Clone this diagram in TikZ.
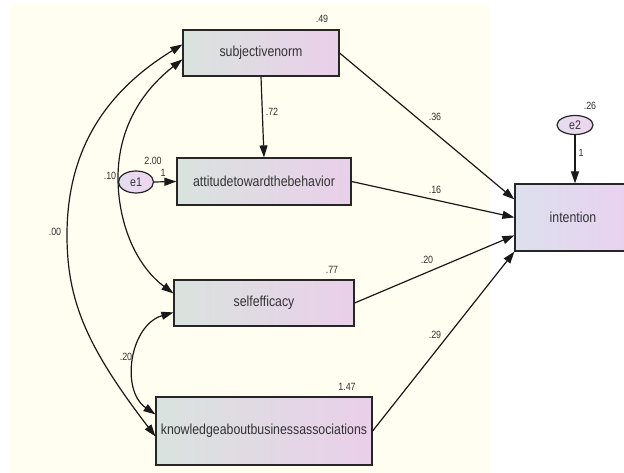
\documentclass[tikz,border=0pt]{standalone}
\usepackage{fontspec}
\setmainfont{Liberation Sans}
\newfontfamily\boxfont[FakeStretch=0.85]{Liberation Sans}
\usetikzlibrary{arrows.meta,calc,shapes.geometric}
\definecolor{cream}{HTML}{FFFEF0}
\definecolor{boxL}{HTML}{D9E3DE}
\definecolor{boxR}{HTML}{EACFEA}
\definecolor{intL}{HTML}{DCE0EE}
\definecolor{intR}{HTML}{EBD0F0}
\definecolor{ellL}{HTML}{E4DDF0}
\definecolor{ellR}{HTML}{F0D4F0}
\definecolor{txt}{HTML}{333333}
\begin{document}
\begin{tikzpicture}[x=1pt,y=-1pt,
  varbox/.style={draw=black!85,line width=1.2pt,shade,left color=boxL,right color=boxR,
    font=\boxfont\fontsize{14.5}{15}\selectfont,text=txt,inner sep=0pt},
  errell/.style={ellipse,draw=black!85,line width=1.2pt,shade,left color=ellL,right color=ellR,
    inner sep=0pt,font=\boxfont\fontsize{12.5}{13}\selectfont,text=txt},
  lbl/.style={font=\boxfont\fontsize{10.5}{11}\selectfont,text=txt,inner sep=0pt},
  reg/.style={line width=1.2pt,draw=black!90,-{Triangle[length=12pt,width=8pt]}},
  cov/.style={line width=1.2pt,draw=black!90,{Triangle[length=12pt,width=8pt]}-{Triangle[length=12pt,width=8pt]}}]
\useasboundingbox (0,0) rectangle (624,473);
\fill[white] (0,0) rectangle (624,473);
\fill[cream] (10,4) rectangle (490,473);

% variables
\node[varbox,minimum width=156pt,minimum height=46pt] (sn) at (261,53) {subjectivenorm};
\node[varbox,minimum width=174pt,minimum height=47pt] (att) at (264,181.5) {attitudetowardthebehavior};
\node[varbox,minimum width=180pt,minimum height=46pt] (se) at (264,303) {selfefficacy};
\node[varbox,minimum width=216pt,minimum height=68pt] (kn) at (264,431) {knowledgeaboutbusinessassociations};
\node[varbox,left color=intL,right color=intR,minimum width=124pt,minimum height=67pt] (int) at (577,217.5) {\hspace*{-4pt}intention\hspace*{4pt}};
\node[errell,minimum width=35pt,minimum height=22pt] (e1) at (136,182) {e1};
\node[errell,minimum width=36pt,minimum height=19pt] (e2) at (575,125) {e2};

% regressions
\draw[reg] (sn.east) -- ($(int.north west)+(0,16)$);
\draw[reg] (att.east) -- ($(int.north west)+(0,34)$);
\draw[reg] (se.east) -- ($(int.north west)+(0,52)$);
\draw[reg] (kn.east) -- (int.south west);
\draw[reg] (sn.south) -- (att.north);
\draw[reg] (e1.east) -- (att.west);
\draw[reg] (e2.south) -- (e2.south |- int.north);

% covariances
\draw[cov] ($(sn.north west)+(0,15)$) .. controls (110,89) and (67,145) .. (67,235)
  .. controls (67,300) and (86,346) .. ($(kn.north west)+(0,40)$);
\draw[cov] ($(sn.north west)+(0,30)$) .. controls (142,91) and (118,128) .. (118,178)
  .. controls (118,220) and (134,264) .. ($(se.north west)+(0,14)$);
\draw[cov] ($(se.north west)+(0,33)$) .. controls (130,325) and (120,390) .. ($(kn.north west)+(0,18)$);

% labels
\node[lbl] (l49) at (322,19) {.49};
\node[lbl] (l72) at (272,112) {.72};
\node[lbl] (l36) at (435,117) {.36};
\node[lbl] (l16) at (435,190) {.16};
\node[lbl] (l26) at (590,106) {.26};
\node[lbl] (le2) at (581,153) {1};
\node[lbl] (l200) at (153,161) {2.00};
\node[lbl] (le1) at (163,173) {1};
\node[lbl] (l10) at (110,176) {.10};
\node[lbl] (l00) at (55,232) {.00};
\node[lbl] (l77) at (332,270) {.77};
\node[lbl] (l20a) at (427,260) {.20};
\node[lbl] (l29) at (435,335) {.29};
\node[lbl] (l147) at (347,387) {1.47};
\node[lbl] (l20b) at (126,357) {.20};
\end{tikzpicture}
\end{document}
